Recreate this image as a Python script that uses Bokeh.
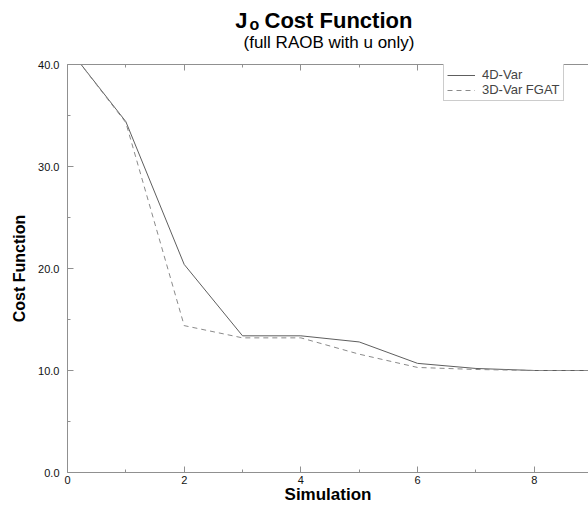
from bokeh.plotting import figure
from bokeh.layouts import column
from bokeh.models import Range1d, Legend, LegendItem, LinearAxis, FixedTicker, PrintfTickFormatter
from bokeh.core.properties import value
from bokeh.embed import file_html
from bokeh.resources import INLINE

# ---- data ----
simulation = [0, 1, 2, 3, 4, 5, 6, 7, 8, 9]
cost_4dvar = [41.7, 34.4, 20.4, 13.4, 13.4, 12.8, 10.7, 10.2, 10.0, 10.0]
cost_3dvar_fgat = [41.7, 34.3, 14.4, 13.2, 13.2, 11.6, 10.3, 10.1, 10.0, 10.0]
x_ticks = [0, 2, 4, 6, 8]
x_minor = [1, 3, 5, 7, 9]
y_ticks = [0, 10, 20, 30, 40]
y_minor = [5, 15, 25, 35]
series_names = ["4D-Var", "3D-Var FGAT"]
title_main = "Cost Function"
title_j = "J"
title_sub = "o"
subtitle = "(full RAOB with u only)"

FONT = "Liberation Sans"
AXIS_GRAY = "#909090"
W = 588
TOP_H = 55
LEFT = 67

# ---- title strip ----
t = figure(width=W, height=TOP_H, output_backend="svg", toolbar_location=None, title=None,
           x_range=Range1d(LEFT, W), y_range=Range1d(TOP_H, 0),
           min_border=0, min_border_left=LEFT,
           x_axis_location=None, y_axis_location=None)
t.outline_line_color = None
t.grid.visible = False
t.text(x=[247], y=[20], text=[title_j], text_align="right", text_baseline="alphabetic",
       text_font=value(FONT), text_font_size="22px", text_font_style="bold", text_color="black")
t.text(x=[249], y=[24], text=[title_sub], text_align="left", text_baseline="alphabetic",
       text_font=value(FONT), text_font_size="16px", text_font_style="bold", text_color="black")
t.text(x=[264], y=[20], text=[title_main], text_align="left", text_baseline="alphabetic",
       text_font=value(FONT), text_font_size="22px", text_font_style="bold", text_color="black")
t.text(x=[328.5], y=[42], text=[subtitle], text_align="center", text_baseline="alphabetic",
       text_font=value(FONT), text_font_size="17px", text_color="black")

# ---- main plot ----
p = figure(width=W, height=506 - TOP_H, output_backend="svg", toolbar_location=None,
           x_range=Range1d(0, 8.93), y_range=Range1d(0, 40),
           min_border_left=LEFT, min_border_right=0, min_border_top=9, min_border_bottom=34,
           x_axis_location=None, y_axis_location=None)
p.outline_line_color = None
p.grid.visible = False

def style_axis(ax, labels=True):
    ax.axis_line_color = AXIS_GRAY
    ax.major_tick_line_color = AXIS_GRAY
    ax.minor_tick_line_color = AXIS_GRAY
    ax.major_tick_in = 6
    ax.major_tick_out = 0
    ax.minor_tick_in = 3
    ax.minor_tick_out = 0
    ax.major_label_text_font = FONT
    ax.major_label_text_font_size = "11px"
    ax.major_label_text_color = "#111111" if labels else None

xb = LinearAxis(ticker=FixedTicker(ticks=x_ticks, minor_ticks=x_minor))
style_axis(xb)
xb.major_label_standoff = 3
xb.axis_label = "Simulation"
xb.axis_label_text_font = FONT
xb.axis_label_text_font_size = "17px"
xb.axis_label_text_font_style = "bold"
xb.axis_label_text_color = "black"
xb.axis_label_standoff = -2
p.add_layout(xb, "below")

xt = LinearAxis(ticker=FixedTicker(ticks=x_ticks, minor_ticks=x_minor))
style_axis(xt, labels=False)
xt.major_label_standoff = 0
p.add_layout(xt, "above")

yl = LinearAxis(ticker=FixedTicker(ticks=y_ticks, minor_ticks=y_minor),
                formatter=PrintfTickFormatter(format="%.1f"))
style_axis(yl)
yl.major_label_standoff = 8
yl.axis_label = "Cost Function"
yl.axis_label_text_font = FONT
yl.axis_label_text_font_size = "16px"
yl.axis_label_text_font_style = "bold"
yl.axis_label_text_color = "black"
yl.axis_label_standoff = 7
p.add_layout(yl, "left")

r1 = p.line(simulation, cost_4dvar, line_color="#5e5e5e", line_width=1)
r2 = p.line(simulation, cost_3dvar_fgat, line_color="#8a8a8a", line_width=1, line_dash="5 4")

legend = Legend(items=[LegendItem(label=series_names[0], renderers=[r1]),
                       LegendItem(label=series_names[1], renderers=[r2])],
                location=(376, 371))
legend.label_text_font = FONT
legend.label_text_font_size = "13px"
legend.label_height = 10
legend.glyph_height = 10
legend.glyph_width = 28
legend.label_standoff = 7
legend.spacing = 0
legend.padding = 3
legend.margin = 0
legend.border_line_color = "#999999"
legend.border_line_width = 1
legend.background_fill_color = "white"
legend.background_fill_alpha = 1
p.add_layout(legend, "center")

layout = column(t, p, spacing=0)
open("out.html", "w").write(file_html(layout, INLINE))
